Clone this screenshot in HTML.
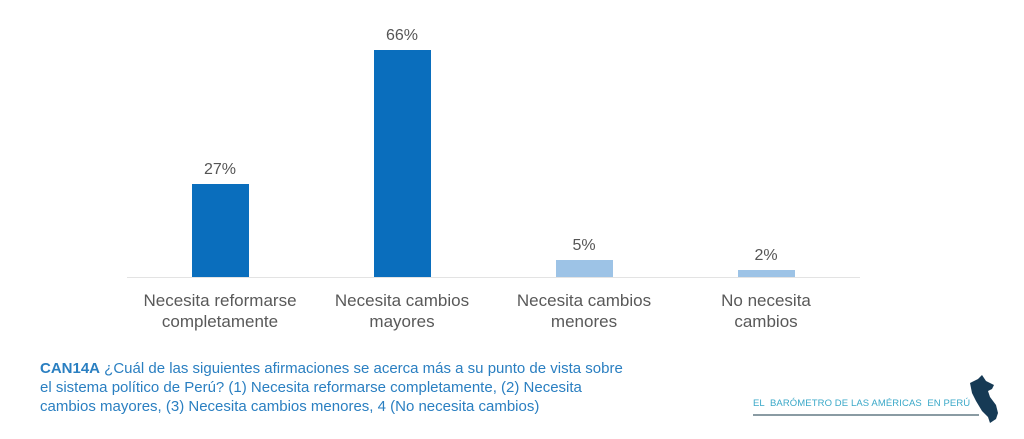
<!DOCTYPE html>
<html><head><meta charset="utf-8"><style>
body{margin:0;width:1024px;height:439px;background:#fff;position:relative;overflow:hidden;font-family:"Liberation Sans",sans-serif}
.bar{position:absolute;width:57px}
.v{position:absolute;width:100px;text-align:center;font-size:16px;color:#555}
.l{position:absolute;width:200px;text-align:center;font-size:17px;color:#595959;line-height:21px}
.cap{position:absolute;left:40px;top:359px;font-size:15px;line-height:19px;color:#2a7fc1}
</style></head><body>
<div style="position:absolute;left:127px;top:277px;width:733px;height:1px;background:#e3e3e3"></div>
<div class="bar" style="left:192px;top:184px;height:93px;background:#0a6ebd"></div>
<div class="bar" style="left:374px;top:50px;height:227px;background:#0a6ebd"></div>
<div class="bar" style="left:556px;top:260px;height:17px;background:#9dc3e6"></div>
<div class="bar" style="left:738px;top:270px;height:7px;background:#9dc3e6"></div>
<div class="v" style="left:170px;top:161px">27%</div>
<div class="v" style="left:352px;top:27px">66%</div>
<div class="v" style="left:534px;top:237px">5%</div>
<div class="v" style="left:716px;top:247px">2%</div>
<div class="l" style="left:120px;top:290px">Necesita reformarse<br>completamente</div>
<div class="l" style="left:302px;top:290px">Necesita cambios<br>mayores</div>
<div class="l" style="left:484px;top:290px">Necesita cambios<br>menores</div>
<div class="l" style="left:666px;top:290px">No necesita<br>cambios</div>
<div class="cap"><b>CAN14A</b> ¿Cuál de las siguientes afirmaciones se acerca más a su punto de vista sobre<br>el sistema político de Perú? (1) Necesita reformarse completamente, (2) Necesita<br>cambios mayores, (3) Necesita cambios menores, 4 (No necesita cambios)</div>
<div style="position:absolute;left:753px;top:398px;font-size:9.5px;color:#3aa8c8;letter-spacing:0.1px">EL &nbsp;BARÓMETRO DE LAS AMÉRICAS &nbsp;EN PERÚ</div>
<div style="position:absolute;left:753px;top:414px;width:226px;height:2px;background:#8a9ba3"></div>
<svg style="position:absolute;left:968px;top:375px" width="36" height="50" viewBox="0 0 36 50"><path d="M2 8 L10 4 L14 0 L18 6 L26 10 L24 14 L20 16 L22 22 L28 30 L30 38 L28 44 L22 48 L20 42 L14 36 L8 26 L4 18 Z" fill="#163a55"/></svg>
</body></html>
